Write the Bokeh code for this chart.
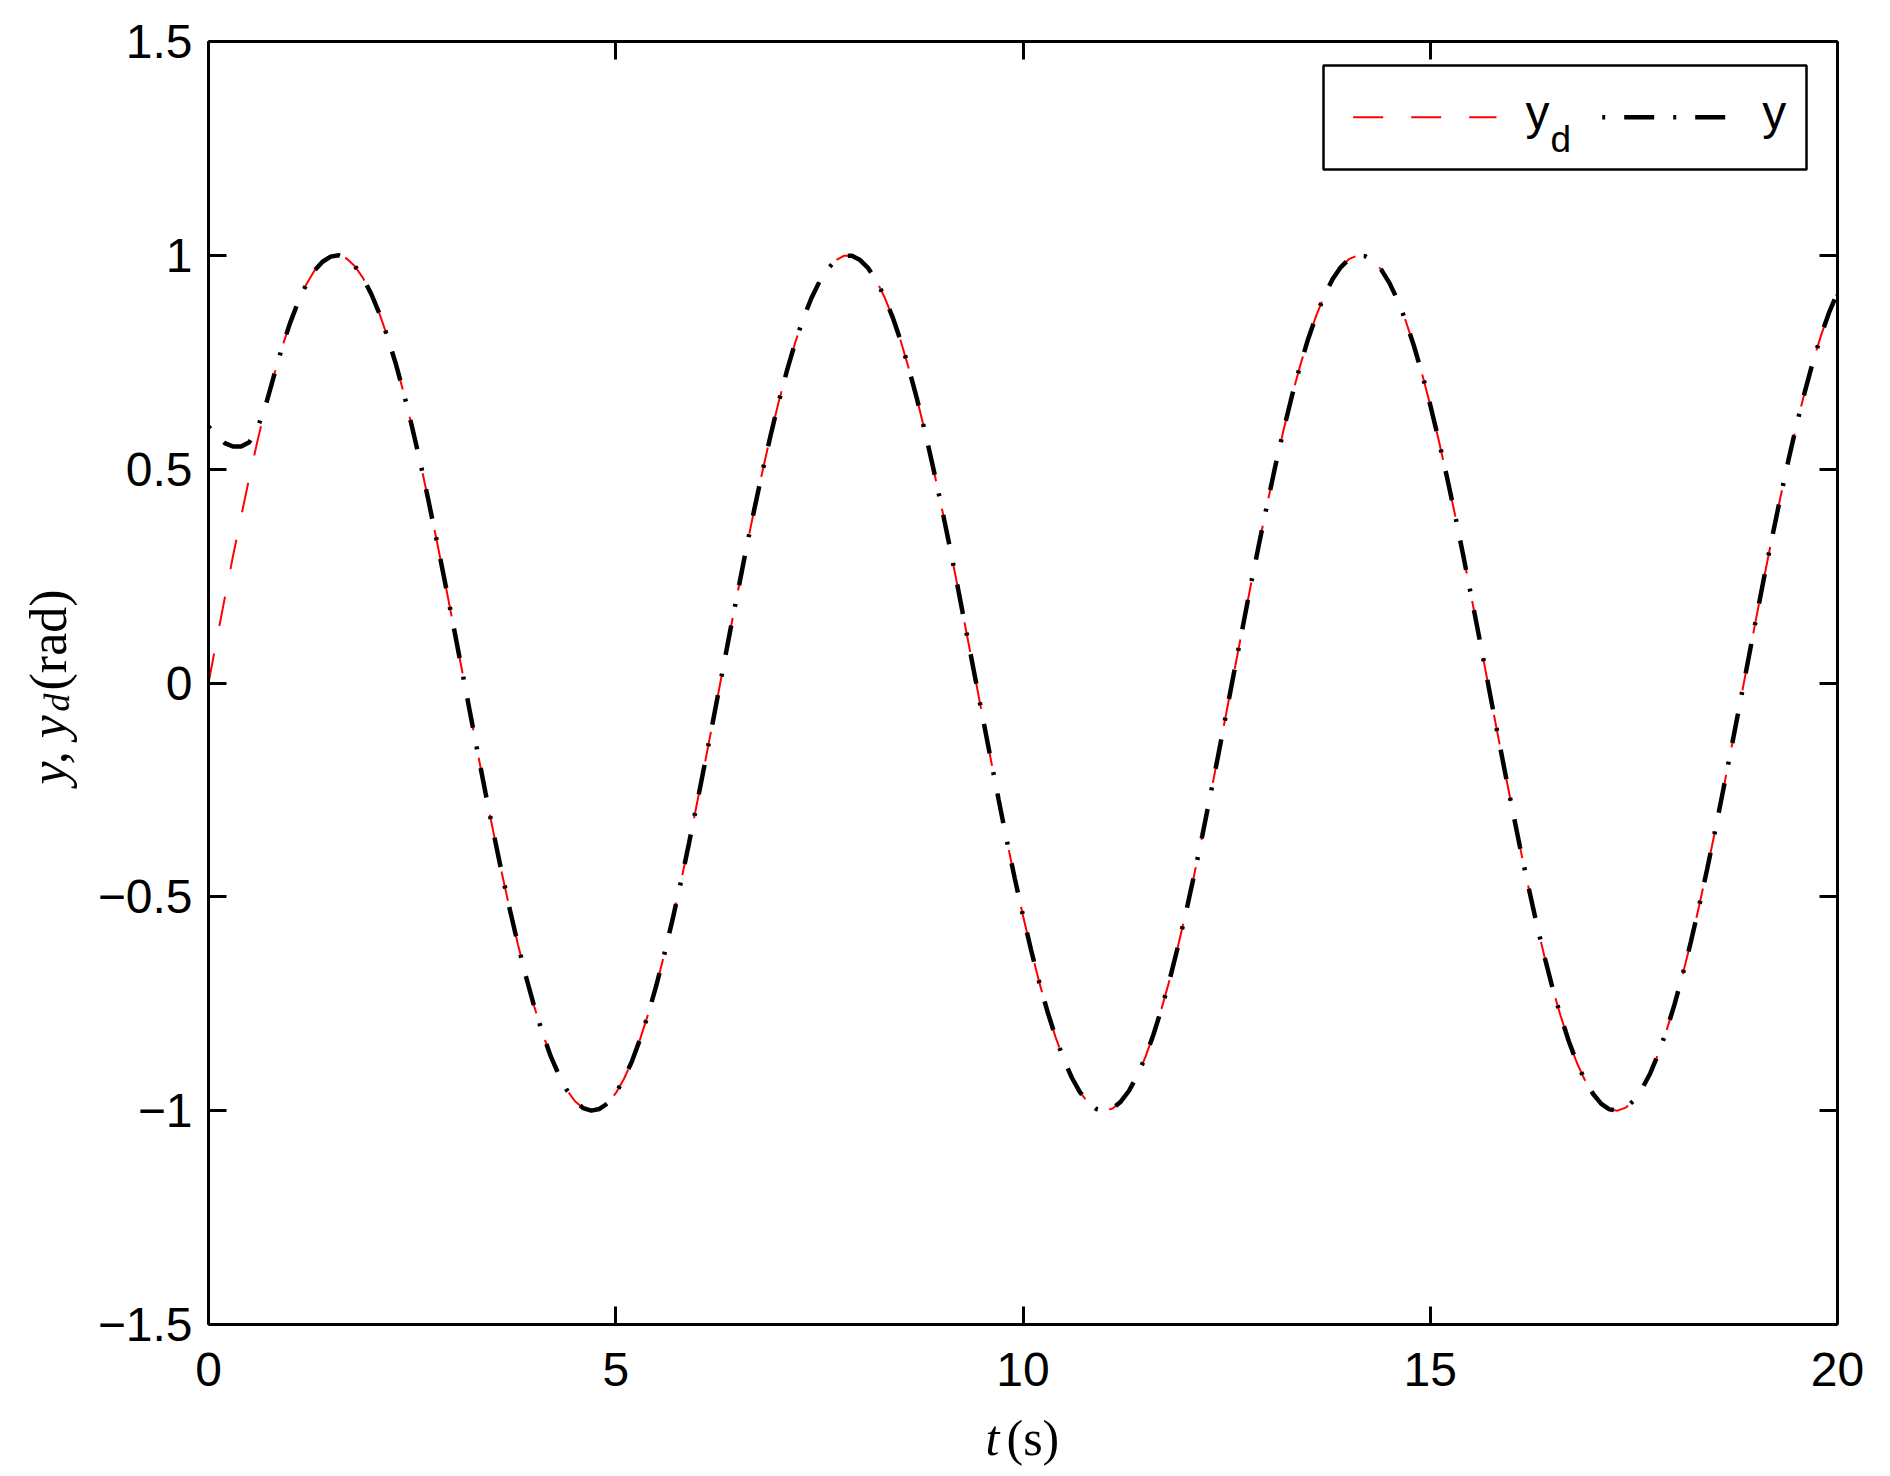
import math
from bokeh.plotting import figure
from bokeh.models import Range1d, FixedTicker, LinearAxis, Label, BoxAnnotation
from bokeh.embed import file_html
from bokeh.resources import INLINE

# ---------------- data ----------------
t = [0.0, 0.1, 0.2, 0.3, 0.4, 0.5, 0.6, 0.7, 0.8, 0.9,
     1.0, 1.1, 1.2, 1.3, 1.4, 1.5, 1.6, 1.7, 1.8, 1.9,
     2.0, 2.1, 2.2, 2.3, 2.4, 2.5, 2.6, 2.7, 2.8, 2.9,
     3.0, 3.1, 3.2, 3.3, 3.4, 3.5, 3.6, 3.7, 3.8, 3.9,
     4.0, 4.1, 4.2, 4.3, 4.4, 4.5, 4.6, 4.7, 4.8, 4.9,
     5.0, 5.1, 5.2, 5.3, 5.4, 5.5, 5.6, 5.7, 5.8, 5.9,
     6.0, 6.1, 6.2, 6.3, 6.4, 6.5, 6.6, 6.7, 6.8, 6.9,
     7.0, 7.1, 7.2, 7.3, 7.4, 7.5, 7.6, 7.7, 7.8, 7.9,
     8.0, 8.1, 8.2, 8.3, 8.4, 8.5, 8.6, 8.7, 8.8, 8.9,
     9.0, 9.1, 9.2, 9.3, 9.4, 9.5, 9.6, 9.7, 9.8, 9.9,
     10.0, 10.1, 10.2, 10.3, 10.4, 10.5, 10.6, 10.7, 10.8, 10.9,
     11.0, 11.1, 11.2, 11.3, 11.4, 11.5, 11.6, 11.7, 11.8, 11.9,
     12.0, 12.1, 12.2, 12.3, 12.4, 12.5, 12.6, 12.7, 12.8, 12.9,
     13.0, 13.1, 13.2, 13.3, 13.4, 13.5, 13.6, 13.7, 13.8, 13.9,
     14.0, 14.1, 14.2, 14.3, 14.4, 14.5, 14.6, 14.7, 14.8, 14.9,
     15.0, 15.1, 15.2, 15.3, 15.4, 15.5, 15.6, 15.7, 15.8, 15.9,
     16.0, 16.1, 16.2, 16.3, 16.4, 16.5, 16.6, 16.7, 16.8, 16.9,
     17.0, 17.1, 17.2, 17.3, 17.4, 17.5, 17.6, 17.7, 17.8, 17.9,
     18.0, 18.1, 18.2, 18.3, 18.4, 18.5, 18.6, 18.7, 18.8, 18.9,
     19.0, 19.1, 19.2, 19.3, 19.4, 19.5, 19.6, 19.7, 19.8, 19.9,
     20.0]

# desired output y_d
yd = [0.000, 0.100, 0.199, 0.296, 0.389, 0.479, 0.565, 0.644, 0.717, 0.783,
      0.841, 0.891, 0.932, 0.964, 0.985, 0.997, 1.000, 0.992, 0.974, 0.946,
      0.909, 0.863, 0.808, 0.746, 0.676, 0.598, 0.516, 0.427, 0.335, 0.239,
      0.141, 0.042, -0.058, -0.158, -0.256, -0.351, -0.443, -0.530, -0.612, -0.688,
      -0.757, -0.818, -0.872, -0.916, -0.952, -0.978, -0.994, -1.000, -0.996, -0.983,
      -0.959, -0.926, -0.884, -0.832, -0.773, -0.706, -0.631, -0.551, -0.465, -0.374,
      -0.279, -0.182, -0.083, 0.017, 0.117, 0.215, 0.312, 0.405, 0.494, 0.578,
      0.657, 0.729, 0.794, 0.851, 0.899, 0.938, 0.968, 0.988, 0.999, 0.999,
      0.989, 0.970, 0.941, 0.902, 0.855, 0.799, 0.734, 0.663, 0.585, 0.501,
      0.412, 0.319, 0.223, 0.124, 0.025, -0.075, -0.174, -0.272, -0.367, -0.458,
      -0.544, -0.625, -0.700, -0.768, -0.828, -0.880, -0.923, -0.957, -0.981, -0.996,
      -1.000, -0.995, -0.979, -0.954, -0.919, -0.876, -0.823, -0.762, -0.694, -0.618,
      -0.537, -0.450, -0.358, -0.263, -0.166, -0.066, 0.034, 0.133, 0.232, 0.327,
      0.420, 0.509, 0.592, 0.670, 0.740, 0.804, 0.859, 0.906, 0.944, 0.972,
      0.991, 0.999, 0.998, 0.987, 0.966, 0.935, 0.895, 0.846, 0.788, 0.723,
      0.650, 0.571, 0.486, 0.397, 0.303, 0.206, 0.108, 0.008, -0.092, -0.191,
      -0.288, -0.382, -0.472, -0.558, -0.638, -0.712, -0.778, -0.837, -0.888, -0.929,
      -0.961, -0.984, -0.997, -1.000, -0.993, -0.976, -0.949, -0.913, -0.867, -0.813,
      -0.751, -0.681, -0.605, -0.522, -0.435, -0.343, -0.247, -0.149, -0.050, 0.050,
      0.150, 0.248, 0.343, 0.435, 0.523, 0.606, 0.682, 0.752, 0.814, 0.868,
      0.913]

# actual output y: starts at 0.6, dips, then follows y_d (from t = 0.9 s on)
y_start = [0.600, 0.578, 0.561, 0.553, 0.553, 0.563, 0.595, 0.648, 0.716]
y_out = y_start + yd[9:]

x_ticks = [0, 5, 10, 15, 20]
x_tick_labels = ["0", "5", "10", "15", "20"]
y_ticks = [-1.5, -1.0, -0.5, 0.0, 0.5, 1.0, 1.5]
y_tick_labels = ["\u22121.5", "\u22121", "\u22120.5", "0", "0.5", "1", "1.5"]

legend_labels = ["y", "d", "y"]
x_label_parts = ["t", "(s)"]
y_label_parts = ["y, y", "d", "(rad)"]

# ---------------- layout (pixels) ----------------
T_MIN, T_MAX = 0, 20
V_MIN, V_MAX = -1.5, 1.5
W, H = 1878, 1468
BOX_L, BOX_R, BOX_T, BOX_B = 208, 1837, 41, 1324   # axes box on the page

PXU = (BOX_R - BOX_L) / (T_MAX - T_MIN)
PYU = (BOX_B - BOX_T) / (V_MAX - V_MIN)
X_LO = T_MIN - BOX_L / PXU
X_HI = T_MAX + (W - BOX_R) / PXU
Y_HI = V_MAX + BOX_T / PYU
Y_LO = V_MIN - (H - BOX_B) / PYU


def X(px):
    return X_LO + px / W * (X_HI - X_LO)


def Y(py):
    return Y_HI - py / H * (Y_HI - Y_LO)


p = figure(width=W, height=H,
           x_range=Range1d(X_LO, X_HI), y_range=Range1d(Y_LO, Y_HI),
           output_backend="svg", toolbar_location=None, min_border=0,
           background_fill_color="white", border_fill_color="white",
           outline_line_color=None)
p.grid.visible = False

FONT = "Liberation Sans"
SERIF = "Liberation Serif"


def style_axis(ax, ticks, labels, standoff, loc, bounds):
    ax.fixed_location = loc
    ax.bounds = bounds
    ax.ticker = FixedTicker(ticks=ticks)
    ax.major_label_overrides = {tk: lb for tk, lb in zip(ticks, labels)}
    ax.axis_line_color = "black"
    ax.axis_line_width = 3
    ax.major_tick_line_color = "black"
    ax.major_tick_line_width = 3
    ax.major_tick_in = 18
    ax.major_tick_out = 0
    ax.minor_tick_line_color = None
    ax.major_label_text_font = FONT
    ax.major_label_text_font_size = "48px"
    ax.major_label_text_color = "black"
    ax.major_label_standoff = standoff


style_axis(p.xaxis[0], x_ticks, x_tick_labels, 28, V_MIN, (T_MIN, T_MAX))
style_axis(p.yaxis[0], y_ticks, y_tick_labels, 16, T_MIN, (V_MIN, V_MAX))

top_axis = LinearAxis()
style_axis(top_axis, x_ticks, ["" for _ in x_ticks], 0, V_MAX, (T_MIN, T_MAX))
p.add_layout(top_axis, "above")
right_axis = LinearAxis()
style_axis(right_axis, y_ticks, ["" for _ in y_ticks], 0, T_MAX, (V_MIN, V_MAX))
p.add_layout(right_axis, "right")

# ---------------- curves ----------------
p.line(t, yd, line_color="#ff0000", line_width=2, line_dash="30 28")
p.line(t, y_out, line_color="black", line_width=4.5, line_dash="3 19 30 19")

# ---------------- legend ----------------
box = BoxAnnotation(left=X(1323), right=X(1806), top=Y(65), bottom=Y(169),
                    fill_color="white", fill_alpha=1.0,
                    line_color="black", line_alpha=1.0, line_width=2.5,
                    level="underlay")
p.add_layout(box)
ly = Y(116.7)
p.line([X(1352.7), X(1496)], [ly, ly], line_color="#ff0000", line_width=2,
       line_dash="30 28")
p.line([X(1601.7), X(1725)], [ly, ly], line_color="black", line_width=4.5,
       line_dash="3 19 30 19")


def text_label(px, py, text, size, font=FONT, style="normal", angle=0.0):
    return Label(x=X(px), y=Y(py), text=text, text_font=font,
                 text_font_style=style, text_font_size=size, text_color="black",
                 angle=angle, angle_units="rad",
                 text_baseline="alphabetic", text_align="left")


p.add_layout(text_label(1525, 112, legend_labels[0], "48px"))
p.add_layout(text_label(1550, 139, legend_labels[1], "37px"))
p.add_layout(text_label(1761.7, 112, legend_labels[2], "48px"))

# ---------------- axis titles ----------------
p.add_layout(text_label(985, 1437, x_label_parts[0], "50px", SERIF, "italic"))
p.add_layout(text_label(1006, 1437, x_label_parts[1], "50px", SERIF))

ang = math.pi / 2
p.add_layout(text_label(48, 784, y_label_parts[0], "52px", SERIF, "italic", ang))
p.add_layout(text_label(56, 711, y_label_parts[1], "36px", SERIF, "italic", ang))
p.add_layout(text_label(48, 690, y_label_parts[2], "52px", SERIF, "normal", ang))

open("out.html", "w").write(file_html(p, INLINE))
